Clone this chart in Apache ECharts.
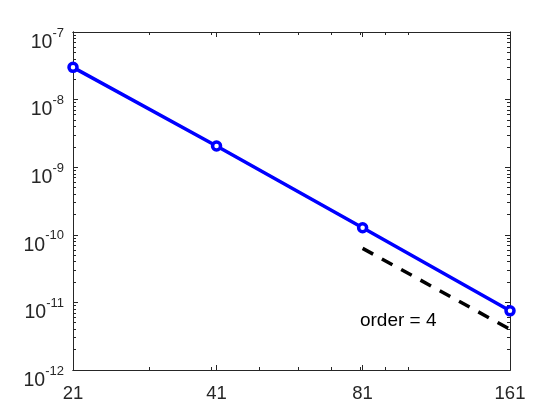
<!DOCTYPE html>
<html>
<head>
<meta charset="utf-8">
<script src="https://cdn.jsdelivr.net/npm/echarts@6/dist/echarts.min.js"></script>
<style>
  html, body { margin: 0; padding: 0; background: #fff; }
  #chart { width: 560px; height: 420px; }
</style>
</head>
<body>
<div id="chart"></div>
<script>
// grid sizes N and the error values
let nPts = [21, 41, 81, 161];
let errVals = [3.0e-8, 2.06e-9, 1.27e-10, 7.5e-12];
// reference slope line (order 4)
let refX = [81, 161];
let refY = [6.3e-11, 4.0e-12];
let refLabel = 'order = 4';
let refLabelAt = [80, 5.4e-12];
// tick values
let xTicks = [21, 41, 81, 161];
let xMinor = [30, 40, 50, 60, 70, 80, 90, 100];
let yTicks = [1e-12, 1e-11, 1e-10, 1e-9, 1e-8, 1e-7];
let yMinor = [];
for (let e = -12; e < -7; e++) {
    for (let m = 2; m <= 9; m++) yMinor.push(m * Math.pow(10, e));
}

let axisCol = '#262626';
let fontFam = 'Liberation Sans, Arial, sans-serif';

function xAx(pos, ticks, len, labels) {
    return {
        type: 'log', min: 21, max: 161, position: pos,
        axisLine: { show: true, onZero: false, lineStyle: { color: axisCol, width: 1 } },
        axisTick: { show: true, inside: true, length: len, customValues: ticks, lineStyle: { color: axisCol } },
        axisLabel: labels ? {
            show: true, customValues: xTicks, margin: 14, color: axisCol,
            fontSize: 18.5, fontFamily: fontFam
        } : { show: false },
        splitLine: { show: false }, minorTick: { show: false }
    };
}
function yAx(pos, ticks, len, labels) {
    return {
        type: 'log', min: 1e-12, max: 1e-7, position: pos,
        axisLine: { show: true, onZero: false, lineStyle: { color: axisCol, width: 1 } },
        axisTick: { show: true, inside: true, length: len, customValues: ticks, lineStyle: { color: axisCol } },
        axisLabel: labels ? {
            show: true, customValues: yTicks, margin: 9, color: axisCol,
            fontFamily: fontFam, padding: [11, 0, 0, 0],
            formatter: function (v) {
                let ex = Math.round(Math.log10(v));
                return '{b|10}{s|' + ex + '}';
            },
            rich: {
                b: { fontSize: 19.5, fontFamily: fontFam, color: axisCol, padding: [10, 0, 0, 0] },
                s: { fontSize: 13, fontFamily: fontFam, color: axisCol, padding: [0, 0, 9, 0] }
            }
        } : { show: false },
        splitLine: { show: false }, minorTick: { show: false }
    };
}

let myChart = echarts.init(document.getElementById('chart'));
let option = {
    animation: false,
    backgroundColor: '#fff',
    grid: { left: 73, right: 50, top: 32, bottom: 50 },
    xAxis: [
        xAx('bottom', xTicks, 5, true),
        xAx('top', xTicks, 5, false),
        xAx('bottom', xMinor, 3, false),
        xAx('top', xMinor, 3, false)
    ],
    yAxis: [
        yAx('left', yTicks, 5, true),
        yAx('right', yTicks, 5, false),
        yAx('left', yMinor, 3, false),
        yAx('right', yMinor, 3, false)
    ],
    series: [
        {
            type: 'line',
            data: nPts.map((n, i) => [n, errVals[i]]),
            lineStyle: { color: '#0000ff', width: 3.5 },
            symbol: 'circle', symbolSize: 8,
            itemStyle: { color: '#ffffff', borderColor: '#0000ff', borderWidth: 3.5 },
            z: 3
        },
        {
            type: 'line',
            data: refX.map((n, i) => [n, refY[i]]),
            lineStyle: { color: '#000', width: 3.5, type: [12, 10] },
            symbol: 'none',
            markPoint: {
                symbol: 'circle', symbolSize: 0,
                data: [{ coord: refLabelAt }],
                label: {
                    show: true, position: 'right', distance: 0,
                    formatter: refLabel, color: '#000', fontSize: 19, fontFamily: fontFam
                }
            },
            z: 2
        }
    ]
};
myChart.setOption(option);
</script>
</body>
</html>
